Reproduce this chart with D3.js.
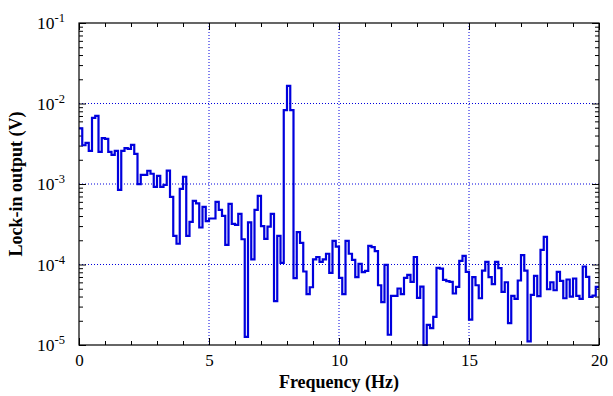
<!DOCTYPE html>
<html>
<head>
<meta charset="utf-8">
<script src="https://cdn.jsdelivr.net/npm/d3@7"></script>
<style>
  body { margin: 0; background: #fff; }
  svg { display: block; font-family: "Liberation Serif", "DejaVu Serif", serif; }
</style>
</head>
<body>
<div id="chart"></div>
<script>
// Lock-in amplitude per 0.125 Hz frequency bin, 0 .. 20 Hz
const binWidth = 0.125;
const lockinOutput = [
  4.9e-3, 3.03e-3, 3.24e-3, 2.58e-3, 6.64e-3, 7.03e-3, 2.51e-3, 3.71e-3, 3.64e-3, 2.51e-3,
  2.30e-3, 2.58e-3, 8.47e-4, 2.58e-3, 2.79e-3, 2.73e-3, 3.07e-3, 2.37e-3, 9.96e-4, 1.30e-3,
  1.30e-3, 1.46e-3, 1.34e-3, 9.22e-4, 1.26e-3, 9.22e-4, 9.77e-4, 1.47e-3, 6.93e-4, 2.27e-4,
  1.81e-4, 8.71e-4, 1.23e-3, 2.27e-4, 3.39e-4, 6.18e-4, 5.73e-4, 2.88e-4, 5.20e-4, 3.45e-4,
  3.73e-4, 3.73e-4, 6.00e-4, 4.77e-4, 4.02e-4, 1.75e-4, 5.67e-4, 3.20e-4, 3.11e-4, 4.26e-4,
  2.06e-4, 1.26e-5, 3.33e-4, 1.16e-4, 4.77e-4, 7.13e-4, 2.99e-4, 2.08e-4, 2.96e-4, 4.26e-4,
  3.51e-5, 2.27e-4, 1.05e-4, 8.27e-3, 1.66e-2, 8.27e-3, 6.76e-5, 2.52e-4, 1.86e-4, 8.18e-5,
  4.28e-5, 5.22e-5, 1.16e-4, 1.24e-4, 1.08e-4, 1.16e-4, 1.36e-4, 7.87e-5, 1.97e-4, 1.67e-4,
  6.82e-5, 4.28e-5, 1.97e-4, 1.36e-4, 1.14e-4, 6.95e-5, 1.02e-4, 8.02e-5, 8.33e-5, 1.70e-4,
  1.64e-4, 1.47e-4, 5.52e-5, 3.40e-5, 9.89e-5, 1.34e-5, 4.08e-5, 4.08e-5, 5.03e-5, 4.28e-5,
  6.82e-5, 7.43e-5, 6.08e-5, 1.24e-4, 3.85e-5, 5.32e-5, 1.0e-5, 1.78e-5, 1.62e-5, 2.24e-5,
  9.08e-5, 8.91e-5, 6.45e-5, 6.21e-5, 6.08e-5, 4.36e-5, 5.27e-5, 1.11e-4, 1.28e-4, 8.09e-5,
  2.07e-5, 6.95e-5, 5.52e-5, 3.81e-5, 8.41e-5, 1.08e-4, 6.95e-5, 5.69e-5, 1.08e-4, 9.00e-5,
  4.57e-5, 6.02e-5, 1.87e-5, 4.08e-5, 3.74e-5, 6.33e-5, 1.31e-4, 8.41e-5, 1.11e-5, 4.20e-5,
  7.22e-5, 4.04e-5, 1.52e-4, 2.20e-4, 4.93e-5, 6.02e-5, 4.79e-5, 8.09e-5, 6.27e-5, 3.81e-5,
  6.51e-5, 4.00e-5, 6.70e-5, 4.08e-5, 3.74e-5, 9.44e-5, 7.02e-5, 3.96e-5, 4.11e-5, 5.27e-5
];
const xTicks = [0, 5, 10, 15, 20];
const xMinorTicks = [1, 2, 3, 4, 6, 7, 8, 9, 11, 12, 13, 14, 16, 17, 18, 19];
const yTicks = [1e-5, 1e-4, 1e-3, 1e-2, 1e-1];
const yExponents = ["-5", "-4", "-3", "-2", "-1"];
const xGrid = [5, 10, 15];
const yGrid = [1e-4, 1e-3, 1e-2];
const xTitle = "Frequency (Hz)";
const yTitle = "Lock-in output (V)";

const W = 613, H = 396;
const margin = {top: 23, right: 14, bottom: 51, left: 79};
const width = W - margin.left - margin.right;
const height = H - margin.top - margin.bottom;
const blue = "#0000dd";

const svg = d3.select("#chart").append("svg")
  .attr("width", W)
  .attr("height", H);
const g = svg.append("g")
  .attr("transform", `translate(${margin.left},${margin.top})`);

const x = d3.scaleLinear().domain([0, 20]).range([0, width]);
const y = d3.scaleLog().domain([1e-5, 1e-1]).range([height, 0]).clamp(true);

// minor y ticks: 2..9 in each decade
const yMinorTicks = [];
for (let e = -5; e < -1; e++) {
  for (let m = 2; m <= 9; m++) yMinorTicks.push(m * Math.pow(10, e));
}

//Dotted grid
g.append("g").selectAll("line").data(xGrid).join("line")
  .attr("x1", d => x(d)).attr("x2", d => x(d))
  .attr("y1", 0).attr("y2", height)
  .attr("stroke", blue).attr("stroke-width", 1).attr("stroke-dasharray", "1,2");
g.append("g").selectAll("line").data(yGrid).join("line")
  .attr("x1", 0).attr("x2", width)
  .attr("y1", d => y(d)).attr("y2", d => y(d))
  .attr("stroke", blue).attr("stroke-width", 1).attr("stroke-dasharray", "1,2");

//Inward ticks on all four sides
const tickStyle = sel => {
  sel.select(".domain").remove();
  sel.selectAll("line").attr("stroke", "#000");
};
g.append("g").attr("transform", `translate(0,${height})`)
  .call(d3.axisBottom(x).tickValues(xTicks).tickSize(-7).tickPadding(9).tickFormat(d3.format("d")))
  .call(tickStyle)
  .style("font-size", "17px").style("font-family", "Liberation Serif");
g.append("g").attr("transform", `translate(0,${height})`)
  .call(d3.axisBottom(x).tickValues(xMinorTicks).tickSize(-4).tickFormat(""))
  .call(tickStyle);
g.append("g")
  .call(d3.axisTop(x).tickValues(xTicks).tickSize(-7).tickFormat(""))
  .call(tickStyle);
g.append("g")
  .call(d3.axisTop(x).tickValues(xMinorTicks).tickSize(-4).tickFormat(""))
  .call(tickStyle);

const yAxis = g.append("g")
  .call(d3.axisLeft(y).tickValues(yTicks).tickSize(-7).tickPadding(11).tickFormat(() => "10"))
  .call(tickStyle)
  .style("font-size", "17.5px").style("font-family", "Liberation Serif");
yAxis.selectAll(".tick text")
  .attr("dx", "-3")
  .each(function(d, i) {
    d3.select(this).append("tspan")
      .attr("dy", "-0.55em")
      .style("font-size", "12.5px")
      .text(yExponents[i]);
  });
g.append("g")
  .call(d3.axisLeft(y).tickValues(yMinorTicks).tickSize(-4).tickFormat(""))
  .call(tickStyle);
g.append("g").attr("transform", `translate(${width},0)`)
  .call(d3.axisRight(y).tickValues(yTicks).tickSize(-7).tickFormat(""))
  .call(tickStyle);
g.append("g").attr("transform", `translate(${width},0)`)
  .call(d3.axisRight(y).tickValues(yMinorTicks).tickSize(-4).tickFormat(""))
  .call(tickStyle);

//Histogram steps
const stepData = lockinOutput.map((v, i) => ({freq: i * binWidth, value: v}));
stepData.push({freq: lockinOutput.length * binWidth, value: lockinOutput[lockinOutput.length - 1]});
const line = d3.line()
  .x(d => x(d.freq))
  .y(d => y(d.value))
  .curve(d3.curveStepAfter);
g.append("path")
  .attr("d", line(stepData))
  .attr("fill", "none")
  .attr("stroke", blue)
  .attr("stroke-width", 2.2)
  .attr("stroke-linejoin", "miter");

//Frame
g.append("rect")
  .attr("width", width).attr("height", height)
  .attr("fill", "none").attr("stroke", "#000").attr("stroke-width", 1.2);

//Axis titles
svg.append("text")
  .attr("x", margin.left + width / 2)
  .attr("y", 388)
  .attr("text-anchor", "middle")
  .style("font-size", "18px").style("font-weight", "bold")
  .text(xTitle);
svg.append("text")
  .attr("transform", `translate(22,${margin.top + height / 2}) rotate(-90)`)
  .attr("text-anchor", "middle")
  .style("font-size", "18px").style("font-weight", "bold")
  .text(yTitle);
</script>
</body>
</html>
